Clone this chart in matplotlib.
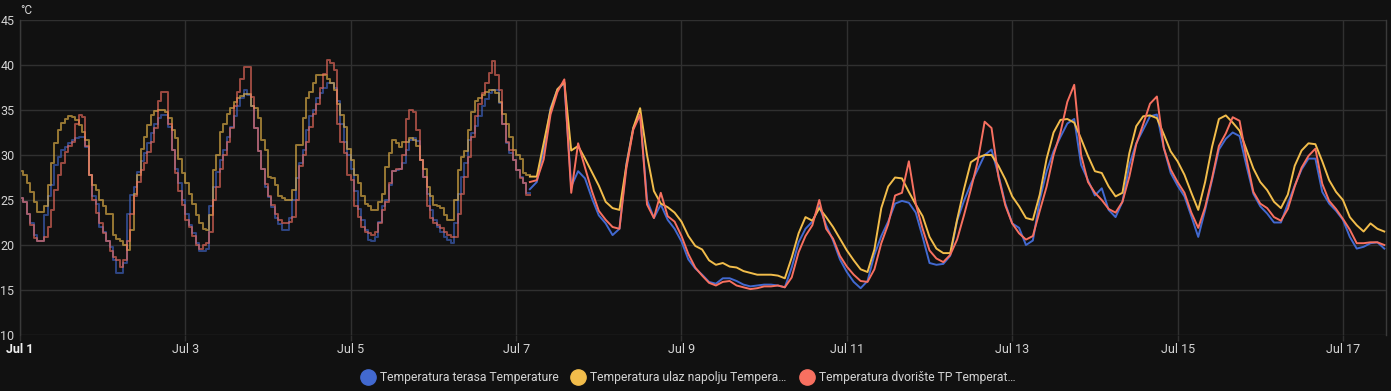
import numpy as np
import matplotlib
matplotlib.use("Agg")
from matplotlib import pyplot as plt
from matplotlib.lines import Line2D

# hourly long-term statistics (Jul 1 00:00 .. Jul 7 03:00), one value per hour
BLUE_STEP = [
    25.2, 24.8, 23.5, 22.4, 21.1, 20.5, 20.5, 23.3, 25.4, 26.7, 28.9, 29.8, 30.6, 30.9, 31.3, 31.7, 31.9, 32.0, 32.0, 30.9, 27.8, 25.4, 24.6, 22.0,
    21.5, 20.5, 19.8, 18.3, 16.9, 16.9, 18.0, 23.5, 25.6, 26.5, 28.1, 29.3, 30.2, 31.3, 32.4, 33.5, 34.1, 34.4, 34.4, 33.1, 30.6, 28.5, 26.9, 25.0,
    23.5, 22.2, 21.3, 20.2, 19.3, 19.3, 19.6, 24.3, 26.5, 28.1, 29.4, 30.6, 32.0, 33.1, 34.3, 35.4, 36.3, 37.2, 36.7, 35.5, 33.0, 30.5, 28.5, 26.5,
    25.3, 24.2, 23.0, 22.3, 21.7, 21.7, 23.0, 25.0, 27.4, 29.1, 30.6, 32.8, 34.3, 35.0, 36.3, 36.9, 37.4, 38.0, 38.0, 37.4, 36.0, 33.5, 31.5, 30.0,
    28.5, 26.0, 24.0, 22.8, 21.7, 20.6, 20.4, 20.9, 22.6, 24.3, 25.0, 26.7, 28.2, 28.3, 28.5, 29.1, 30.6, 31.7, 31.9, 31.6, 29.4, 27.6, 25.7, 23.9,
    22.8, 22.0, 21.5, 20.9, 20.6, 20.2, 22.4, 25.7, 27.6, 29.1, 31.7, 32.4, 33.2, 34.3, 35.4, 36.2, 36.9, 37.2, 37.2, 35.8, 33.5, 31.3, 30.2, 29.4,
    28.3, 27.6, 26.9, 25.8,
]
YELLOW_STEP = [
    28.2, 27.8, 26.9, 25.9, 24.8, 23.7, 23.7, 24.3, 26.7, 29.1, 31.3, 32.8, 33.6, 34.0, 34.3, 34.2, 33.9, 33.3, 32.6, 31.7, 27.8, 26.7, 26.1, 25.0,
    24.3, 23.5, 23.5, 21.1, 20.7, 20.4, 20.0, 19.4, 21.7, 25.7, 27.8, 30.7, 32.0, 33.3, 34.4, 34.9, 35.0, 35.0, 34.8, 34.1, 32.8, 31.9, 29.6, 28.0,
    26.9, 25.7, 24.6, 23.3, 22.4, 21.8, 21.7, 23.3, 28.3, 30.0, 32.6, 33.5, 34.6, 35.2, 35.9, 36.3, 36.6, 36.8, 36.8, 35.4, 35.2, 34.1, 31.7, 30.6,
    27.6, 27.4, 26.7, 25.4, 25.2, 25.0, 25.0, 26.1, 31.1, 31.1, 34.1, 36.3, 37.0, 38.0, 38.9, 38.9, 38.9, 38.5, 38.0, 37.2, 35.7, 34.4, 33.1, 30.7,
    29.4, 27.8, 26.9, 25.4, 24.6, 24.3, 23.9, 23.9, 24.8, 25.7, 28.7, 30.2, 31.7, 31.3, 30.9, 31.5, 31.5, 31.9, 31.7, 31.0, 29.4, 28.5, 26.5, 25.4,
    24.4, 24.3, 24.1, 23.3, 22.8, 22.8, 25.0, 28.3, 29.8, 30.5, 32.8, 34.8, 36.0, 36.3, 36.7, 37.0, 37.2, 37.2, 36.9, 35.9, 34.6, 33.5, 32.0, 30.6,
    30.0, 29.6, 28.0, 27.8,
]
RED_STEP = [
    25.2, 24.8, 23.5, 22.2, 20.8, 20.4, 20.4, 20.9, 22.0, 23.9, 26.1, 27.8, 29.1, 30.3, 31.0, 31.5, 33.5, 34.4, 34.2, 31.0, 27.8, 25.0, 23.6, 22.4,
    21.3, 20.5, 19.3, 18.7, 18.3, 17.6, 18.3, 20.4, 23.5, 25.5, 27.0, 28.3, 29.1, 30.3, 31.5, 33.0, 36.0, 37.0, 37.0, 33.5, 30.6, 28.0, 26.0, 24.5,
    22.8, 22.0, 21.0, 20.0, 19.6, 20.0, 20.2, 21.5, 25.0, 26.5, 28.5, 30.0, 31.5, 33.0, 35.5, 37.0, 38.5, 39.8, 39.8, 36.5, 33.0, 30.5, 28.5, 26.8,
    25.5, 24.5, 23.5, 22.8, 22.4, 22.4, 22.6, 23.1, 25.0, 28.8, 30.0, 31.5, 33.1, 34.6, 35.7, 37.5, 39.0, 40.6, 40.2, 39.4, 33.5, 31.5, 30.2, 27.8,
    27.2, 24.3, 23.1, 22.0, 21.5, 21.3, 21.1, 21.5, 22.4, 23.9, 24.8, 26.9, 28.2, 28.4, 28.5, 30.0, 34.0, 35.0, 34.8, 32.8, 29.4, 27.6, 24.3, 23.0,
    22.4, 22.2, 21.9, 21.5, 21.1, 20.9, 20.9, 23.5, 25.7, 27.6, 29.8, 32.0, 34.3, 35.7, 36.9, 38.0, 39.1, 40.4, 38.9, 37.2, 33.5, 31.5, 30.6, 29.4,
    28.3, 27.4, 26.9, 25.6,
]

# recorded history (Jul 7 04:00 .. Jul 17 12:00), every 2 hours
DETAIL_START = 148
BLUE_DETAIL = [
    26.2, 27.0, 30.5, 35.2, 37.3, 38.0, 26.5, 28.2, 27.4, 25.2, 23.3, 22.4,
    21.1, 21.8, 29.0, 33.0, 34.5, 25.0, 23.0, 24.5, 22.8, 21.8, 20.4, 18.4,
    17.4, 16.7, 15.9, 15.7, 16.3, 16.3, 16.0, 15.6, 15.4, 15.5, 15.6, 15.6,
    15.5, 15.3, 17.5, 20.3, 21.8, 22.6, 24.3, 22.2, 20.5, 18.4, 17.0, 15.9,
    15.2, 16.0, 18.9, 21.0, 22.6, 24.6, 24.9, 24.7, 23.6, 20.9, 18.0, 17.8,
    17.9, 18.8, 22.7, 24.9, 26.8, 28.4, 30.0, 30.6, 27.8, 24.6, 22.4, 21.9,
    20.0, 20.5, 25.0, 28.2, 30.4, 32.0, 33.5, 34.0, 28.9, 27.2, 25.5, 26.3,
    23.9, 23.1, 24.8, 28.9, 31.3, 32.8, 34.3, 34.5, 30.8, 28.0, 26.6, 25.4,
    23.2, 20.9, 23.9, 27.2, 30.6, 31.8, 32.5, 32.1, 28.8, 25.7, 24.3, 23.5,
    22.5, 22.5, 24.6, 26.6, 28.4, 29.6, 29.6, 25.9, 24.6, 23.8, 22.8, 20.9,
    19.6, 19.8, 20.2, 20.3, 19.6,
]
YELLOW_DETAIL = [
    27.6, 27.6, 31.3, 35.0, 37.3, 38.1, 30.5, 31.0, 29.6, 28.1, 26.6, 24.8,
    24.1, 23.9, 28.8, 33.0, 35.2, 30.0, 26.0, 24.6, 24.2, 23.6, 22.6, 21.0,
    19.9, 19.5, 18.3, 17.8, 18.0, 17.6, 17.5, 17.1, 16.9, 16.7, 16.7, 16.7,
    16.6, 16.3, 18.6, 21.3, 23.1, 22.7, 24.1, 23.1, 22.0, 20.7, 19.4, 18.3,
    17.3, 17.0, 19.5, 24.1, 26.5, 27.5, 27.4, 25.9, 24.5, 23.2, 20.9, 19.6,
    19.1, 19.1, 22.8, 26.2, 29.2, 29.7, 30.0, 30.0, 28.8, 27.3, 25.4, 24.3,
    23.0, 22.8, 25.6, 29.6, 32.5, 33.9, 34.0, 33.6, 31.8, 29.9, 28.2, 28.0,
    26.5, 25.4, 25.8, 30.2, 33.2, 34.3, 34.4, 34.1, 32.3, 30.4, 29.3, 27.8,
    25.8, 23.9, 27.0, 30.9, 34.0, 34.4, 33.6, 32.7, 30.6, 28.5, 27.0, 26.1,
    24.8, 24.1, 25.6, 28.8, 30.5, 31.3, 31.2, 29.3, 27.2, 25.9, 25.0, 23.1,
    22.2, 21.5, 22.4, 21.8, 21.5,
]
RED_DETAIL = [
    27.0, 27.2, 29.5, 34.5, 37.0, 38.4, 25.8, 31.3, 28.6, 26.0, 23.8, 22.8,
    22.0, 21.8, 28.5, 32.8, 34.5, 24.5, 23.0, 25.8, 23.2, 22.6, 21.0, 19.0,
    17.5, 16.6, 15.8, 15.5, 15.9, 16.0, 15.5, 15.3, 15.1, 15.2, 15.4, 15.4,
    15.5, 15.3, 16.4, 19.2, 21.0, 22.2, 25.0, 21.8, 20.7, 18.8, 17.6, 16.7,
    16.0, 15.9, 17.3, 20.2, 22.3, 25.5, 25.8, 29.3, 24.6, 21.8, 19.4, 18.5,
    18.1, 18.9, 20.6, 23.3, 26.2, 29.3, 33.7, 33.0, 27.6, 24.4, 22.4, 21.3,
    20.6, 21.0, 23.8, 26.5, 30.0, 32.5, 35.9, 37.8, 30.0, 27.0, 25.8, 25.0,
    24.0, 23.6, 24.8, 27.6, 31.2, 33.4, 35.7, 36.5, 30.8, 28.4, 27.0, 25.8,
    23.6, 21.9, 24.2, 27.4, 31.0, 32.4, 34.2, 33.8, 29.6, 25.9, 24.6, 24.1,
    23.1, 22.7, 24.0, 26.5, 28.6, 29.9, 30.7, 26.8, 24.9, 24.0, 22.9, 21.7,
    20.2, 20.2, 20.3, 20.3, 20.0,
]

LABELS = [
    "Temperatura terasa Temperature",
    "Temperatura ulaz napolju Tempera\u2026",
    "Temperatura dvori\u0161te TP Temperat\u2026",
]
COLORS = ["#4269d0", "#f2bd4b", "#f87060"]
TICK_LABELS = ["Jul 1", "Jul 3", "Jul 5", "Jul 7", "Jul 9", "Jul 11", "Jul 13", "Jul 15", "Jul 17"]

BG = "#111111"
GRID = "#303030"
TEXT = "#d4d4d4"

plt.rcParams["font.family"] = ["Roboto", "DejaVu Sans"]

fig = plt.figure(figsize=(13.91, 3.91), dpi=100, facecolor=BG)
ax = fig.add_axes([20 / 1391, 56 / 391, 1366 / 1391, 315 / 391])
ax.set_facecolor(BG)

steps = [BLUE_STEP, YELLOW_STEP, RED_STEP]
details = [BLUE_DETAIL, YELLOW_DETAIL, RED_DETAIL]
for step_vals, detail_vals, color in zip(steps, details, COLORS):
    # statistics part: hourly steps, dimmed
    hours = np.arange(len(step_vals) + 1)
    vals = list(step_vals) + [step_vals[-1]]
    ax.plot(hours, vals, drawstyle="steps-post", color=color, lw=1.4, alpha=0.6, zorder=2)
    # history part
    dh = DETAIL_START + 2 * np.arange(len(detail_vals))
    ax.plot(dh, detail_vals, color=color, lw=1.4, zorder=3)

ax.set_xlim(0, 396.5)
ax.set_ylim(10, 45)
ax.set_yticks(range(10, 50, 5))
ax.set_xticks(np.arange(0, 385, 48))
ax.set_xticklabels(TICK_LABELS)

ax.grid(True, color=GRID, lw=1.0)
ax.set_axisbelow(True)
for side in ["top", "bottom"]:
    ax.spines[side].set_visible(False)
for side in ["left", "right"]:
    ax.spines[side].set_color("#3a3a3a")
    ax.spines[side].set_linewidth(1.0)

ax.tick_params(axis="y", length=0, pad=4, labelsize=9, labelcolor=TEXT)
ax.tick_params(axis="x", length=4, width=1.0, color=GRID, pad=2, labelsize=9, labelcolor=TEXT)
first = ax.get_xticklabels()[0]
first.set_fontweight("bold")
first.set_color("#f0f0f0")

fig.text(20 / 1391, 1 - 10 / 391, "\u00b0C", color=TEXT, fontsize=8.5, ha="left", va="center")

handles = [Line2D([], [], ls="none", marker="o", ms=11, mfc=c, mec=c) for c in COLORS]
leg = fig.legend(handles, LABELS, loc="center", bbox_to_anchor=(0.495, 13 / 391), ncol=3,
                 frameon=False, fontsize=8.7, labelcolor=TEXT, handlelength=1.0,
                 handletextpad=0.5, columnspacing=1.15)

fig.savefig("out.png", dpi=100, facecolor=BG)
